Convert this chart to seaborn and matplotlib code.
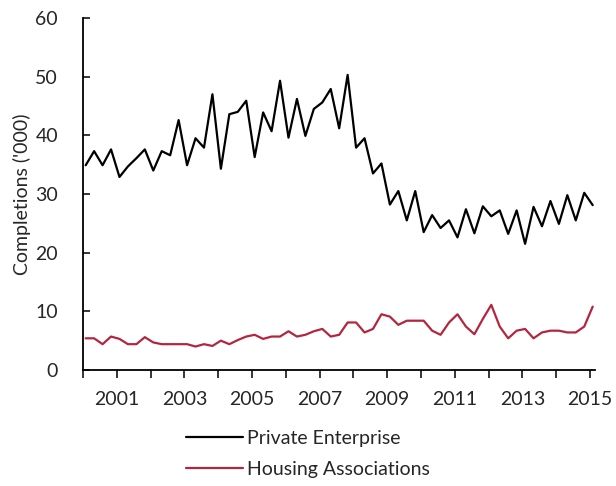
import pandas as pd
import seaborn as sns
import matplotlib.pyplot as plt
import numpy as np

# quarterly completions, 2000 Q1 to 2015 Q1 ('000)
private = [34.9, 37.3, 34.9, 37.6, 32.9, 34.7, 36.1, 37.6, 34.0, 37.3, 36.6, 42.6,
           34.9, 39.5, 37.9, 47.0, 34.3, 43.6, 44.0, 45.9, 36.3, 43.9, 40.7, 49.3,
           39.6, 46.2, 39.9, 44.5, 45.6, 47.9, 41.2, 50.3, 37.9, 39.5, 33.5, 35.2,
           28.2, 30.5, 25.5, 30.5, 23.5, 26.4, 24.2, 25.5, 22.6, 27.4, 23.3, 27.9,
           26.2, 27.2, 23.2, 27.2, 21.5, 27.8, 24.5, 28.8, 24.9, 29.8, 25.5, 30.2,
           28.1]
housing = [5.4, 5.4, 4.4, 5.7, 5.3, 4.4, 4.4, 5.6, 4.7, 4.4, 4.4, 4.4,
           4.4, 4.0, 4.4, 4.1, 5.0, 4.4, 5.1, 5.7, 6.0, 5.3, 5.7, 5.7,
           6.6, 5.7, 6.0, 6.6, 7.0, 5.7, 6.0, 8.1, 8.1, 6.4, 7.0, 9.5,
           9.1, 7.7, 8.4, 8.4, 8.4, 6.7, 6.0, 8.1, 9.5, 7.4, 6.1, 8.7,
           11.1, 7.4, 5.4, 6.7, 7.0, 5.4, 6.4, 6.7, 6.7, 6.4, 6.4, 7.4,
           10.8]
years = list(range(2000, 2016))
year_labels = [str(y) if y % 2 == 1 else "" for y in years]

quarters = 2000.08 + 0.25 * np.arange(len(private))
df = pd.DataFrame({
    "t": np.concatenate([quarters, quarters]),
    "val": private + housing,
    "series": ["Private Enterprise"] * len(private) + ["Housing Associations"] * len(housing),
})

sns.set_style("white")
plt.rcParams["font.family"] = ["Lato", "DejaVu Sans"]

pal = {"Private Enterprise": "black", "Housing Associations": "#B3263E"}

fig = plt.figure(figsize=(6.16, 4.86), dpi=100)
ax = fig.add_axes([0.1347, 0.2387, 0.966 - 0.1347, 0.963 - 0.2387])
sns.lineplot(data=df, x="t", y="val", hue="series", palette=pal, linewidth=1.6, ax=ax)

ax.set_xlim(2000, 2015.15)
ax.set_ylim(0, 60)
ax.set_xticks(years)
ax.set_xticklabels(year_labels)
ax.set_yticks(np.arange(0, 61, 10))
ax.tick_params(axis="y", direction="in", length=5, width=1.3, pad=18, labelsize=14)
ax.tick_params(axis="x", direction="out", length=6, width=1.3, pad=9, labelsize=14)
ax.tick_params(left=True, bottom=True)

for s in ["top", "right"]:
    ax.spines[s].set_visible(False)
for s in ["left", "bottom"]:
    ax.spines[s].set_color("black")
    ax.spines[s].set_linewidth(1.3)

ax.set_xlabel("")
ax.set_ylabel("Completions ('000)", fontsize=14, labelpad=3)

ax.get_legend().remove()
handles = ax.lines[:2]
fig.legend(handles=handles, labels=["Private Enterprise", "Housing Associations"],
           loc="center", bbox_to_anchor=(0.5, 0.066), frameon=False, fontsize=14,
           ncol=1, handlelength=2.9, handletextpad=0.2, labelspacing=0.75)

fig.savefig("out.png", dpi=100)
